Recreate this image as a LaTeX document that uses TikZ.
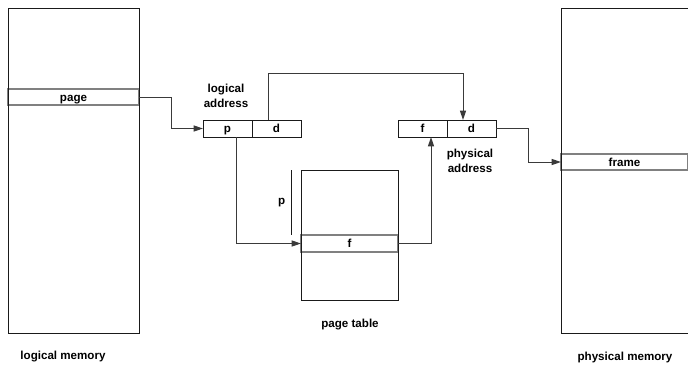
\documentclass[tikz,border=0pt]{standalone}
\usepackage{fontspec}
\setmainfont{Liberation Sans}
\usetikzlibrary{arrows.meta,positioning,calc}
\definecolor{edge}{HTML}{1A1A1A}
\definecolor{rowc}{HTML}{808080}
\definecolor{wire}{HTML}{3A3A3A}
\tikzset{
  mem/.style={rectangle, draw=edge, line width=0.7pt, inner sep=0pt, outer sep=0pt, anchor=north west},
  row/.style={rectangle, draw=rowc, line width=0.8pt, inner sep=0pt, outer sep=0pt, font=\lbl,
    text height=7pt, text depth=1pt},
  cell/.style={rectangle, draw=edge, line width=0.7pt, inner sep=0pt, outer sep=0pt,
    minimum width=36.75pt, minimum height=12.75pt, font=\lbl, text height=7pt, text depth=1pt},
  txt/.style={inner sep=0pt, align=center, font=\lbl},
  link/.style={-{Stealth[length=7pt, width=4.5pt, inset=0pt]}, line width=0.75pt, draw=wire},
}
\newcommand{\lbl}{\fontsize{8.7}{11.25}\selectfont\bfseries}

\begin{document}
\begin{tikzpicture}[x=0.75pt, y=-0.75pt]
  \useasboundingbox (0,0) rectangle (688,365);
  % rows first, boxes on top
  \node[row, minimum width=98.25pt, minimum height=12pt] (page) at (73.5,97) {page};
  \node[row, minimum width=95.25pt, minimum height=12pt] (frame) at (624.5,162) {frame};
  \node[row, minimum width=72.75pt, minimum height=12.75pt] (ptf) at (349.5,243.5) {f};
  \node[mem, minimum width=98.25pt, minimum height=243.75pt] (lmem) at (8,8) {};
  \node[mem, minimum width=95.25pt, minimum height=243.75pt] (pmem) at (561,8) {};
  \node[mem, minimum width=72.75pt, minimum height=97.5pt] (pt) at (301,170) {};
  % addresses
  \node[cell] (lp) at (227.5,128.5) {p};
  \node[cell, right=0pt of lp] (ld) {d};
  \node[cell] (pf) at (422.5,128.5) {f};
  \node[cell, right=0pt of pf] (pd) {d};
  % labels
  \node[txt] (laddr) at (226,96) {logical\\address};
  \node[txt] (paddr) at (470,161) {physical\\address};
  \node[txt] (ptlbl) at (350,325) {page table};
  \node[txt] (lmlbl) at (63,357) {logical memory};
  \node[txt] (pmlbl) at (625,357) {physical memory};
  % index marker
  \draw[line width=0.7pt, draw=edge] ([xshift=-7.5pt]pt.north west) -- ([xshift=-7.5pt]ptf.north west)
    node[midway, left=4pt, txt] (pidx) {p};
  % connectors
  \draw[link] (page.east) -- ++(32,0) |- (lp.west);
  \draw[link] ([xshift=12pt]ld.north west) -- ++(0,-47) -| ([xshift=12pt]pd.north west);
  \draw[link] ([xshift=24.75pt]lp.south west) |- (ptf.west);
  \draw[link] (ptf.east) -| ([xshift=24.75pt]pf.south west);
  \draw[link] (pd.east) -- ++(32,0) |- (frame.west);
\end{tikzpicture}
\end{document}
